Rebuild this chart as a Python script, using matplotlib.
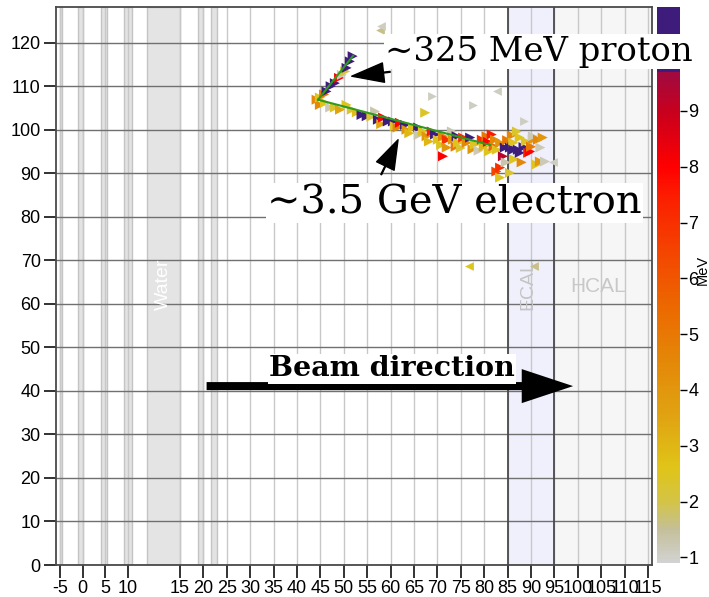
import numpy as np
import matplotlib.pyplot as plt
from matplotlib.colors import LinearSegmentedColormap, Normalize
from matplotlib.cm import ScalarMappable

plt.rcParams['font.family'] = ['Liberation Sans', 'DejaVu Sans']
plt.rcParams['axes.unicode_minus'] = False

# z axis ticks (cm), upstream part is compressed
xtick_vals = [-5, 0, 5, 10] + list(range(15, 120, 5))
ytick_vals = list(range(0, 130, 10))

# passive layers upstream of the tracker
layers = [(-5.0, -4.6), (-1.0, 0.0), (4.0, 5.3), (9.1, 10.4), (18.8, 19.9), (21.6, 22.9)]
water = (11.8, 15.0)
ecal = (85, 95)
hcal = (95, 116)

# proton hits: z, y, deposited energy (MeV)
proton_z = [44.2, 44.9, 45.8, 46.3, 47.2, 48.1, 49.0, 49.6, 50.3, 50.6, 51.3, 51.9]
proton_y = [106.9, 107.4, 108.1, 108.8, 110.0, 110.7, 111.9, 112.6, 113.4, 114.2, 115.7, 116.9]
proton_e = [4.5, 2.5, 5.0, 12, 12, 12, 8.0, 1.2, 2.2, 12, 12, 12]

# electron track + shower hits
shower_z = [44.9, 46.0, 47.1, 48.1, 49.2, 50.6, 51.7, 52.8, 53.8, 54.9, 55.9, 56.7, 57.3, 58.0,
            58.4, 59.4, 60.5, 60.9, 61.5, 62.0, 63.1, 63.4, 64.0, 64.8, 65.9, 66.0, 66.9, 67.4,
            67.7, 68.2, 68.8, 69.5, 70.1, 70.8, 71.2, 71.2, 72.0, 72.0, 73.1, 73.3, 73.9, 74.1,
            74.4, 75.0, 75.5, 76.3, 77.0, 77.5, 78.0, 78.8, 79.5, 79.9, 80.5, 80.8, 81.0, 81.6,
            82.0, 82.3, 82.6, 82.7, 83.4, 83.4, 83.4, 84.0, 84.4, 84.6, 84.9, 85.5, 85.5, 85.9,
            86.2, 86.2, 86.4, 87.0, 87.2, 87.6, 87.6, 88.0, 88.4, 88.9, 89.4, 89.8, 90.0, 90.4,
            90.4, 91.2, 91.5, 91.9, 92.0, 92.5, 93.0]
shower_y = [105.7, 106.2, 105.1, 105.1, 104.6, 105.7, 104.6, 104.0, 103.4, 103.1, 103.0, 104.2, 102.3, 101.3,
            102.8, 101.9, 101.9, 100.8, 100.5, 101.6, 101.1, 100.0, 99.2, 100.5, 100.5, 98.8, 99.6, 103.9,
            98.5, 97.3, 99.6, 98.9, 97.7, 96.5, 98.5, 93.9, 97.7, 95.9, 99.6, 97.7, 96.1, 98.5,
            97.0, 95.8, 98.2, 97.0, 98.2, 95.5, 96.6, 95.2, 97.7, 96.1, 98.5, 97.2, 95.0, 98.9,
            96.2, 97.7, 90.4, 95.4, 97.0, 91.3, 89.0, 93.9, 95.9, 92.5, 97.6, 95.9, 90.1, 98.7,
            97.0, 95.4, 93.2, 99.6, 95.4, 98.2, 94.7, 92.5, 96.0, 97.3, 94.7, 95.0, 96.1, 97.7,
            98.5, 92.0, 97.7, 92.7, 95.9, 98.2, 92.7]
shower_e = [4.5, 2.6, 1.2, 2.4, 3.5, 2.5, 2.2, 2.8, 12, 12, 2.3, 1.3, 12, 3.5,
            8, 12, 12, 2.3, 4.5, 8, 12, 4, 3, 2.8, 12, 1.3, 2.5, 2.4,
            4, 3, 7.5, 12, 2.6, 2.5, 4.5, 8, 7, 4, 1.3, 4, 5, 12,
            2.6, 2.3, 7, 4.5, 12, 4, 2.5, 1.2, 7, 3, 5, 8, 2.5, 7.5,
            5.5, 4.5, 6.5, 2.5, 4, 7, 2.5, 9.2, 12, 1.3, 5, 12, 2.3, 4.5,
            2.5, 12, 2.5, 2.3, 12, 2.6, 12, 4.5, 12, 2.4, 7.5, 8, 5, 4,
            1.2, 2.5, 4.5, 4, 1.2, 4, 1.2]

# isolated hits, some reconstructed as backward-going
stray_z = [68.8, 77.6, 82.7, 88.5, 94.7, 76.8, 90.6, 57.7, 57.9]
stray_y = [107.7, 105.7, 108.9, 101.9, 92.7, 68.7, 68.7, 123.0, 123.8]
stray_e = [1.1, 1.1, 1.1, 1.1, 1.1, 2.5, 1.6, 1.6, 1.1]
stray_mk = ['>', '>', '<', '>', '<', '<', '<', '<', '<']

# fitted tracks
vertex = (44.5, 106.9)
proton_end = (52.0, 117.0)
electron_end = (81.2, 96.5)

e_min, e_max = 0.9, 9.7
cmap = LinearSegmentedColormap.from_list('edep', [
    (0.0, '#d2d2d2'), ((1.5 - e_min) / 8.8, '#c4bf98'), ((2.0 - e_min) / 8.8, '#d4c444'),
    ((2.6 - e_min) / 8.8, '#e0c418'), ((3.5 - e_min) / 8.8, '#e0a412'), ((4.5 - e_min) / 8.8, '#e48808'),
    ((5.5 - e_min) / 8.8, '#ec6800'), ((6.5 - e_min) / 8.8, '#f44400'), ((7.5 - e_min) / 8.8, '#fc1c00'),
    ((8.0 - e_min) / 8.8, '#ff0000'), ((9.0 - e_min) / 8.8, '#c8001e'), (1.0, '#a00a40')])
cmap.set_over('#3d1c7c')
norm = Normalize(e_min, e_max)

# compressed upstream region: label value -> drawing position
lab_knots = [-20, 10, 15, 200]
pos_knots = [-25.1, 3.9, 15, 200]


def fwd(x):
    return np.interp(x, lab_knots, pos_knots)


def inv(x):
    return np.interp(x, pos_knots, lab_knots)


fig = plt.figure(figsize=(7.09, 5.97), dpi=100)
ax = fig.add_axes([0.079, 0.0536, 0.8406, 0.9347])
ax.set_zorder(3)
ax.set_xscale('function', functions=(fwd, inv))
ax.set_xlim(-5.9, 115.85)
ax.set_ylim(0, 128.2)
ax.set_axisbelow('line')

for a, b in layers:
    ax.axvspan(a, b, facecolor='#e3e3e3', edgecolor='#c4c4c4', lw=1)
ax.axvspan(*water, facecolor='#e4e4e4', edgecolor='#c4c4c4', lw=1)
ax.axvspan(*ecal, facecolor='#f0f0fd', edgecolor='none')
ax.axvspan(*hcal, facecolor='#f6f6f6', edgecolor='none')

ax.set_xticks(xtick_vals)
ax.set_yticks(ytick_vals)
ax.grid(axis='x', color='#c8c8c8', lw=1)
ax.grid(axis='y', color='#707070', lw=1)
for zb in ecal:
    ax.axvline(zb, color='#4a4a4a', lw=1.3, zorder=1.6)

ax.text(13.4, 64.4, 'Water', color='white', fontsize=14, rotation=90, ha='center', va='center')
ax.text(89.4, 64.4, 'ECAL', color='#c4c4c4', fontsize=14, rotation=90, ha='center', va='center')
ax.text(104.3, 63.9, 'HCAL', color='#c8c8c8', fontsize=15, ha='center', va='center')

ax.plot([vertex[0], proton_end[0]], [vertex[1], proton_end[1]], color='#2e9a1e', lw=1.5, zorder=4)
ax.plot([vertex[0], electron_end[0]], [vertex[1], electron_end[1]], color='#2e9a1e', lw=1.5, zorder=4)

ax.scatter(shower_z, shower_y, c=shower_e, cmap=cmap, norm=norm, marker='>', s=52, lw=0, zorder=3)
ax.scatter(proton_z, proton_y, c=proton_e, cmap=cmap, norm=norm, marker='>', s=52, lw=0, zorder=3)
for z, y, e, m in zip(stray_z, stray_y, stray_e, stray_mk):
    ax.scatter([z], [y], c=[e], cmap=cmap, norm=norm, marker=m, s=40, lw=0, zorder=3)

box = dict(facecolor='white', edgecolor='none', pad=1)
ax.annotate('', xy=(51.7, 112.3), xytext=(59.9, 113.3), zorder=5,
            arrowprops=dict(facecolor='black', edgecolor='black', width=0.6,
                            headwidth=14, headlength=23, shrink=0))
ax.annotate('', xy=(61.6, 97.7), xytext=(58.0, 89.7), zorder=5,
            arrowprops=dict(facecolor='black', edgecolor='black', width=0.6,
                            headwidth=14, headlength=21, shrink=0))
ax.text(58.8, 117.9, '\u223c325 MeV proton', family='DejaVu Serif', fontsize=24.4,
        ha='left', va='center', bbox=box, zorder=6)
ax.text(33.6, 83.2, '\u223c3.5 GeV electron', family='DejaVu Serif', fontsize=28.8,
        ha='left', va='center', bbox=box, zorder=6)

ax.annotate('', xy=(99.0, 41.1), xytext=(20.7, 41.1), zorder=5,
            arrowprops=dict(facecolor='black', edgecolor='none', width=5.8,
                            headwidth=24.5, headlength=37, shrink=0))
ax.text(60.3, 45.1, 'Beam direction', family='DejaVu Serif', fontweight='bold', fontsize=20.5,
        ha='center', va='center', bbox=box, zorder=6)

for s in ax.spines.values():
    s.set_color('#4a4a4a')
    s.set_linewidth(1.3)
ax.tick_params(length=9, width=1.3, color='#222222', labelsize=13, pad=2)

cax = fig.add_axes([0.9267, 0.057, 0.0324, 0.9313])
cb = fig.colorbar(ScalarMappable(norm=norm, cmap=cmap), cax=cax, extend='max',
                  extendrect=True, extendfrac=0.132, ticks=range(1, 10))
cb.outline.set_visible(False)
cb.ax.tick_params(length=5, width=1, labelsize=13, pad=1)
fig.text(0.9915, 0.548, 'MeV', fontsize=10.5, rotation=90, ha='center', va='center')

fig.savefig('out.png', dpi=100)
